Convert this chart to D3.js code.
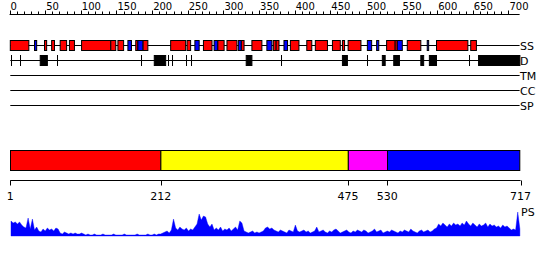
<!DOCTYPE html>
<html>
<head>
<meta charset="utf-8">
<script src="https://cdn.jsdelivr.net/npm/d3@7"></script>
<style>
  body { margin: 0; background: #fff; }
  svg { display: block; font-family: "DejaVu Sans", sans-serif; }
</style>
</head>
<body>
<div id="chart"></div>
<script>
"use strict";

// sequence length and ruler labels
var seqLength = 717;
var rulerLabels = [0, 50, 100, 150, 200, 250, 300, 350, 400, 450, 500, 550, 600, 650, 700];

// secondary structure (residue ranges)
var helixRanges = [[1,27],[49,52],[59,63],[71,80],[84,91],[101,142],[142,149],[152,160],[177,180],
  [187,194],[226,247],[249,254],[272,284],[292,301],[305,319],[325,329],[340,354],[370,374],[374,378],
  [394,406],[417,424],[429,446],[453,464],[467,470],[475,493],[529,541],[541,544],[558,577],[599,643],[647,655]];
var strandRanges = [[35,38],[166,171],[180,187],[260,266],[287,292],[321,325],[361,368],[385,390],
  [502,508],[515,518],[544,551],[586,588]];

// disorder track
var disorderRanges = [[2,2],[15,15],[43,53],[66,66],[184,184],[203,219],[222,222],[228,228],[247,247],
  [254,254],[332,340],[381,381],[467,474],[502,502],[523,527],[539,547],[577,581],[589,599],[645,645],[658,716]];

var trackNames = ["SS", "D", "TM", "CC", "SP"];

// domain boundaries
var domainBounds = [1, 212, 475, 530, 717];

// PS profile, one value per 3 residues
var psValues = [
  15,13,14,12,14,11,9,8,18,7,17,6,9,5,4,7,5,8,6,7,5,8,7,3,2,4,3,2,3,2,3,2,2,3,2,
  1,2,1,1,2,1,1,1,2,1,1,1,1,2,1,1,1,1,2,1,1,1,1,1,2,1,1,1,1,2,1,1,2,1,2,2,
  3,4,5,3,6,17,
  8,6,9,7,6,8,5,7,6,9,
  12,22,16,20,19,12,9,12,6,
  8,6,9,5,7,6,8,5,7,9,6,15,13,
  5,4,3,4,5,3,4,3,4,5,8,
  9,7,8,6,5,
  4,6,5,4,3,6,5,4,11,5,
  4,5,6,4,5,3,4,5,9,
  4,5,6,4,3,5,4,6,7,5,3,4,5,6,4,3,5,4,6,5,
  4,6,5,3,4,5,7,4,5,6,3,4,5,4,6,5,4,3,5,4,
  6,5,4,7,5,4,3,5,6,4,5,6,4,5,7,8,
  12,10,13,11,9,12,10,13,11,12,10,13,11,15,12,10,13,11,9,12,10,11,13,9,12,10,11,9,10,8,11,9,10,8,
  6,7,6,24,7
];

var width = 550, height = 260;
var domainColors = ["#ff0000", "#ffff00", "#ff00ff", "#0000ff"];

var x = d3.scaleLinear().domain([1, seqLength]).range([10.3, 520.6]);

var svg = d3.select("#chart").append("svg")
  .attr("width", width)
  .attr("height", height);

// ruler on top
var rulerY = 14.5;
svg.append("line")
  .attr("x1", x(0)).attr("x2", x(seqLength) - 1)
  .attr("y1", rulerY).attr("y2", rulerY)
  .attr("stroke", "#000");
svg.selectAll("line.rtick").data(d3.range(0, 701, 10))
  .enter().append("line")
    .attr("class", "rtick")
    .attr("x1", function(d) { return Math.round(x(d)) + 0.5; })
    .attr("x2", function(d) { return Math.round(x(d)) + 0.5; })
    .attr("y1", rulerY)
    .attr("y2", function(d) { return d % 50 === 0 ? rulerY - 4 : rulerY - 3; })
    .attr("stroke", "#000");
svg.selectAll("text.rlabel").data(rulerLabels)
  .enter().append("text")
    .attr("class", "rlabel")
    .attr("x", function(d) { return x(d) + 1; })
    .attr("y", 10)
    .attr("font-size", 10)
    .text(function(d) { return d; });

// tracks
var trackY = d3.scalePoint().domain(trackNames).range([45.5, 105.5]);
svg.selectAll("line.track").data(trackNames)
  .enter().append("line")
    .attr("class", "track")
    .attr("x1", x(1)).attr("x2", x(seqLength) - 1)
    .attr("y1", function(d) { return trackY(d); })
    .attr("y2", function(d) { return trackY(d); })
    .attr("stroke", "#000");
svg.selectAll("text.tname").data(trackNames)
  .enter().append("text")
    .attr("class", "tname")
    .attr("x", 520)
    .attr("y", function(d) { return trackY(d) + 4; })
    .attr("font-size", 11)
    .text(function(d) { return d; });

function drawBoxes(ranges, track, fill) {
  svg.append("g").selectAll("rect").data(ranges)
    .enter().append("rect")
      .attr("x", function(d) {
        // single residues are drawn as crisp 1px ticks
        return d[0] === d[1] ? Math.round(x(d[0])) + 0.5 : x(d[0]);
      })
      .attr("width", function(d) { return Math.max(x(d[1]) - x(d[0]), 0.01); })
      .attr("y", trackY(track) - 5)
      .attr("height", 10)
      .attr("fill", fill)
      .attr("stroke", "#000");
}
drawBoxes(helixRanges, "SS", "#ff0000");
drawBoxes(strandRanges, "SS", "#0000ff");
drawBoxes(disorderRanges, "D", "#000");

// domain bar
var domains = d3.pairs(domainBounds);
svg.append("g").selectAll("rect").data(domains)
  .enter().append("rect")
    .attr("x", function(d) { return x(d[0]) + 0.2; })
    .attr("width", function(d) { return x(d[1]) - x(d[0]) - (d[1] === seqLength ? 1 : 0); })
    .attr("y", 150.5)
    .attr("height", 20)
    .attr("fill", function(d, i) { return domainColors[i]; })
    .attr("stroke", "#000");

var axisY = 180.5;
svg.append("line")
  .attr("x1", x(1)).attr("x2", x(seqLength))
  .attr("y1", axisY).attr("y2", axisY)
  .attr("stroke", "#000");
svg.selectAll("line.dtick").data(domainBounds)
  .enter().append("line")
    .attr("class", "dtick")
    .attr("x1", function(d) { return Math.round(x(d)) + 0.5; })
    .attr("x2", function(d) { return Math.round(x(d)) + 0.5; })
    .attr("y1", axisY).attr("y2", axisY + 5)
    .attr("stroke", "#000");
svg.selectAll("text.dlabel").data(domainBounds)
  .enter().append("text")
    .attr("class", "dlabel")
    .attr("x", function(d) { return x(d); })
    .attr("y", 200)
    .attr("text-anchor", "middle")
    .attr("font-size", 11)
    .text(function(d) { return d; });

// PS profile
var psY = d3.scaleLinear().domain([0, 30]).range([236, 206]);
var area = d3.area()
  .x(function(d, i) { return x(Math.min(1 + i * 3 + 1, seqLength)); })
  .y0(psY(0))
  .y1(function(d) { return psY(d); });
svg.append("path")
  .datum(psValues)
  .attr("d", area)
  .attr("fill", "#0000ff")
  .attr("stroke", "#0000ff")
  .attr("stroke-width", 0.4);
svg.append("text")
  .attr("x", 521)
  .attr("y", 216)
  .attr("font-size", 11)
  .text("PS");
</script>
</body>
</html>
